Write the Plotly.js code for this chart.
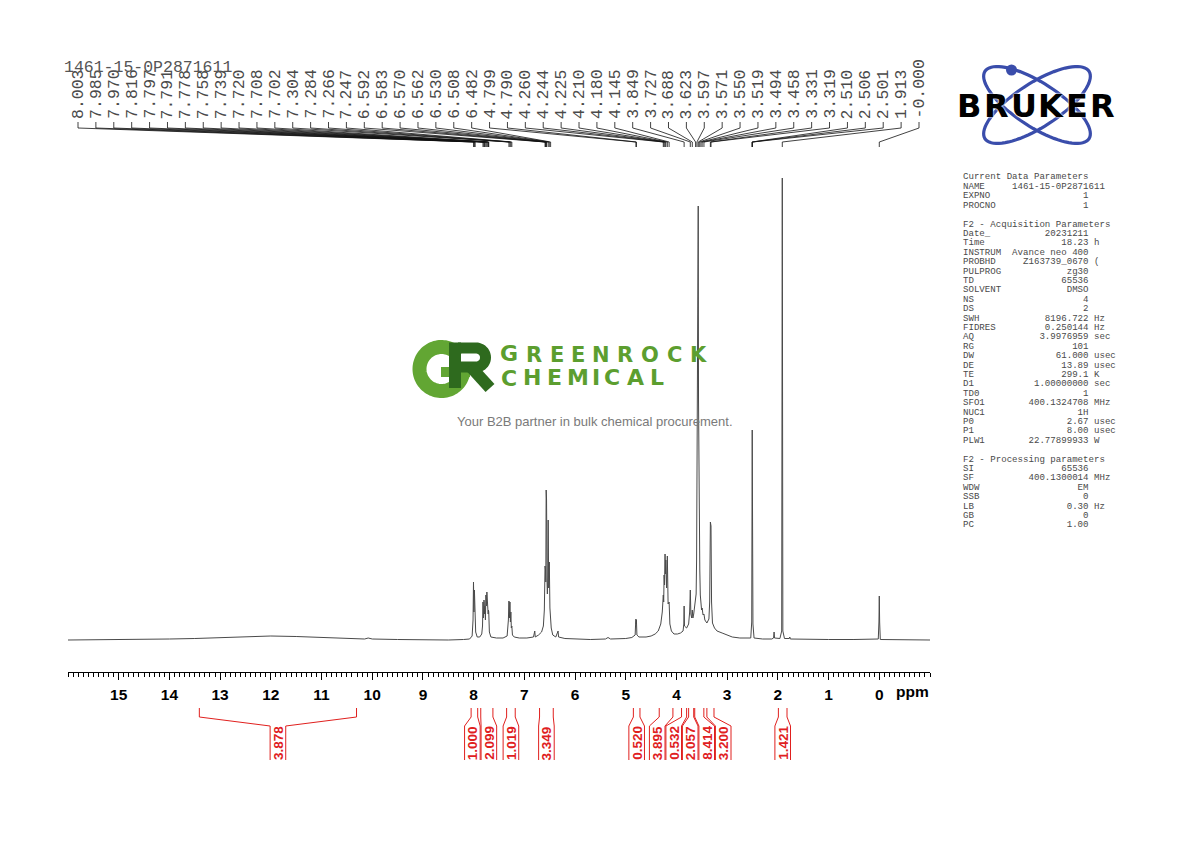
<!DOCTYPE html>
<html><head><meta charset="utf-8">
<script src="https://cdn.plot.ly/plotly-3.0.1.min.js"></script>
<style>html,body{margin:0;padding:0;background:#fff}#chart{width:1190px;height:842px}</style>
</head><body><div id="chart"></div>
<script>
// ---------------- data ----------------
// 1H spectrum trace: chemical shift (ppm) and intensity (a.u., baseline = 0)
const SPEC_PPM = [16.0,15.0,14.5,14.0,13.5,13.0,12.5,12.0,11.5,11.0,10.5,10.15,10.08,10.0,9.5,9.0,8.5,8.2,8.08,8.03,8.012,8.003,7.994,7.985,7.978,7.970,7.960,7.93,7.88,7.84,7.825,7.816,7.806,7.797,7.791,7.785,7.778,7.768,7.758,7.748,7.739,7.730,7.720,7.714,7.708,7.702,7.690,7.66,7.55,7.42,7.34,7.315,7.304,7.295,7.284,7.275,7.266,7.257,7.247,7.235,7.20,7.10,6.95,6.82,6.795,6.785,6.72,6.66,6.625,6.606,6.592,6.588,6.583,6.577,6.570,6.566,6.562,6.553,6.546,6.538,6.530,6.520,6.508,6.496,6.489,6.482,6.470,6.44,6.38,6.335,6.325,6.2,6.0,5.7,5.4,5.35,5.30,5.0,4.88,4.815,4.805,4.799,4.794,4.790,4.780,4.74,4.60,4.50,4.42,4.36,4.31,4.28,4.260,4.252,4.244,4.235,4.225,4.218,4.210,4.195,4.180,4.165,4.145,4.130,4.10,4.05,3.98,3.92,3.87,3.855,3.849,3.842,3.80,3.76,3.74,3.727,3.716,3.70,3.688,3.676,3.66,3.645,3.623,3.612,3.603,3.597,3.588,3.580,3.571,3.565,3.558,3.550,3.540,3.530,3.519,3.505,3.494,3.476,3.458,3.44,3.40,3.36,3.345,3.331,3.325,3.319,3.308,3.29,3.25,3.20,3.10,3.00,2.90,2.75,2.60,2.535,2.516,2.510,2.506,2.501,2.492,2.47,2.30,2.12,2.085,2.075,2.066,1.96,1.925,1.913,1.902,1.87,1.775,1.765,1.755,1.40,1.00,0.50,0.02,0.007,0.000,-0.007,-0.02,-0.5,-1.0];
const SPEC_INT = [0,0.3,0.5,1,1.5,2.5,3.5,4,3.5,2.5,1.5,1,2,1,0.5,0,0,0.5,1,4,20,58,28,50,24,38,8,3,3,6,14,38,22,40,38,26,34,20,45,34,48,30,36,26,30,28,8,3,2,2,4,20,39,22,38,18,28,12,14,5,3,2,2,3,9,3,5,8,14,30,74,55,70,58,150,112,140,58,46,62,120,52,78,32,26,30,12,5,3,9,3,1.5,1,0.5,1,2.5,1,1.5,2.5,5,17,21,16,20,5,3,3,4,6,9,16,28,45,38,65,55,86,66,80,52,84,36,38,16,9,6,6,7,9,16,34,14,12,16,28,50,26,22,30,22,26,34,44,46,80,175,200,300,434,240,160,115,70,45,40,30,32,25,26,20,17,21,38,118,98,114,38,17,12,9,7,5,3,2,1.5,2,18,150,210,140,16,2,1,1,2,8,2,1.5,9,462,9,1.5,1.5,3,1,0.5,0.5,0.5,1,18,44,18,0.5,0,0];

// peak picking labels (ppm)
const PEAK_LABELS = [8.003,7.985,7.970,7.816,7.797,7.791,7.778,7.758,7.739,7.720,7.708,7.702,7.304,7.284,7.266,7.247,6.592,6.583,6.570,6.562,6.530,6.508,6.482,4.799,4.790,4.260,4.244,4.225,4.210,4.180,4.145,3.849,3.727,3.688,3.623,3.597,3.571,3.550,3.519,3.494,3.458,3.331,3.319,2.510,2.506,2.501,1.913,-0.000];
const PEAK_TEXT = ['8.003','7.985','7.970','7.816','7.797','7.791','7.778','7.758','7.739','7.720','7.708','7.702','7.304','7.284','7.266','7.247','6.592','6.583','6.570','6.562','6.530','6.508','6.482','4.799','4.790','4.260','4.244','4.225','4.210','4.180','4.145','3.849','3.727','3.688','3.623','3.597','3.571','3.550','3.519','3.494','3.458','3.331','3.319','2.510','2.506','2.501','1.913','-0.000'];

// integrals
const INT_FROM = [13.41,8.05,7.86,7.35,6.70,4.85,4.34,3.90,3.76,3.64,3.40,1.99];
const INT_TO   = [10.31,7.92,7.62,7.18,6.43,4.72,4.07,3.80,3.66,3.46,3.26,1.82];
const INT_TEXT = ['3.878','1.000','2.099','1.019','3.349','0.520','3.895','0.532','2.057','8.414','3.200','1.421'];

// axis ticks
const TICK_VALUES = [15,14,13,12,11,10,9,8,7,6,5,4,3,2,1,0];
const TICK_LABELS = ['15','14','13','12','11','10','9','8','7','6','5','4','3','2','1','0'];

// acquisition / processing parameter panel
const PARAM_NAMES  = ['Current Data Parameters','NAME','EXPNO','PROCNO','','F2 - Acquisition Parameters','Date_','Time','INSTRUM','PROBHD','PULPROG','TD','SOLVENT','NS','DS','SWH','FIDRES','AQ','RG','DW','DE','TE','D1','TD0','SFO1','NUC1','P0','P1','PLW1','','F2 - Processing parameters','SI','SF','WDW','SSB','LB','GB','PC'];
const PARAM_VALUES = ['','1461-15-0P2871611','1','1','','','20231211','18.23','Avance neo 400','Z163739_0670','zg30','65536','DMSO','4','2','8196.722','0.250144','3.9976959','101','61.000','13.89','299.1','1.00000000','1','400.1324708','1H','2.67','8.00','22.77899933','','','65536','400.1300014','EM','0','0.30','0','1.00'];
const PARAM_UNITS  = ['','','','','','','','h','','(','','','','','','Hz','Hz','sec','','usec','usec','K','sec','','MHz','','usec','usec','W','','','','MHz','','','Hz','',''];

const SAMPLE_NAME = '1461-15-0P2871611';

// ---------------- geometry helpers ----------------
const W = 1190, H = 842;
const ML = 68, MR = 260, PLOT_H = 672;
const X0 = 16, X1 = -1;
const PW = W - ML - MR;
function pxToPpm(x){ return X0 - (x - ML) / PW * (X0 - X1); }
function ppmToPx(p){ return ML + (X0 - p) / (X0 - X1) * PW; }
function px(x){ return (x - ML) / PW; }
function py(y){ return (PLOT_H - y) / PLOT_H; }
function pt(x, y){ return px(x).toFixed(5) + ',' + py(y).toFixed(5); }

const shapes = [];
const annotations = [];

// ---------------- peak labels ----------------
const MONO = 'Liberation Mono, Courier New, monospace';
const nL = PEAK_LABELS.length;
for (let i = 0; i < nL; i++) {
  const lx = pxToPpm(78 + i * (919 - 78) / (nL - 1));
  const p = PEAK_LABELS[i];
  annotations.push({xref:'x', yref:'paper', x: lx, y: py(120), xanchor:'center', yanchor:'bottom',
    text: PEAK_TEXT[i], textangle: -90, showarrow:false, borderpad:0,
    font:{family: MONO, size:16.5, color:'#4a4a4a'}});
  shapes.push({type:'path', xref:'x', yref:'paper', layer:'above',
    path:`M ${lx},${py(122)} L ${lx},${py(128)} L ${p},${py(142)} L ${p},${py(147)}`,
    line:{color:'#111', width:0.8}});
}
annotations.push({xref:'paper', yref:'paper', x: px(62), y: py(68), xanchor:'left', yanchor:'middle',
  text: SAMPLE_NAME, showarrow:false, font:{family: MONO, size:16.5, color:'#555'}});

// ---------------- integrals ----------------
const RED = '#e0201e';
const GAP = 16.5;
const centers = INT_FROM.map((f, i) => (ppmToPx(f) + ppmToPx(INT_TO[i])) / 2);
let groups = centers.map((c, i) => ({start:i, n:1, mean:c}));
let merged = true;
while (merged) {
  merged = false;
  for (let g = 0; g < groups.length - 1; g++) {
    const a = groups[g], b = groups[g + 1];
    const aEnd = a.mean + (a.n - 1) / 2 * GAP, bStart = b.mean - (b.n - 1) / 2 * GAP;
    if (bStart - aEnd < GAP) {
      const n = a.n + b.n;
      groups.splice(g, 2, {start:a.start, n:n, mean:(a.mean * a.n + b.mean * b.n) / n});
      merged = true; break;
    }
  }
}
const labelPx = [];
groups.forEach(g => { for (let k = 0; k < g.n; k++) labelPx[g.start + k] = g.mean + (k - (g.n - 1) / 2) * GAP; });
const HALF = 7.8;
for (let i = 0; i < INT_TEXT.length; i++) {
  const lc = labelPx[i];
  const l = pxToPpm(lc - HALF), r = pxToPpm(lc + HALF);
  const a = INT_FROM[i], b = INT_TO[i];
  shapes.push({type:'path', xref:'x', yref:'paper', layer:'above',
    path:`M ${a},${py(708)} L ${a},${py(717)} L ${l},${py(726)} L ${l},${py(760)} M ${b},${py(708)} L ${b},${py(717)} L ${r},${py(726)} L ${r},${py(760)}`,
    line:{color:RED, width:1}});
  annotations.push({xref:'x', yref:'paper', x: pxToPpm(lc), y: py(743), xanchor:'center', yanchor:'middle',
    text: INT_TEXT[i], textangle:-90, showarrow:false, borderpad:0,
    font:{family:'Liberation Sans, Arial, sans-serif', size:13.5, color:RED, weight:'bold'}});
}

// ppm unit label
annotations.push({xref:'paper', yref:'paper', x: px(912), y: py(692), xanchor:'center', yanchor:'middle',
  text:'ppm', showarrow:false, font:{family:'Liberation Sans, Arial, sans-serif', size:15.5, color:'#000', weight:'bold'}});

// ---------------- parameter panel ----------------
for (let k = 0; k < PARAM_NAMES.length; k++) {
  const name = PARAM_NAMES[k], val = PARAM_VALUES[k], unit = PARAM_UNITS[k];
  if (!name) continue;
  let line = name;
  if (val) {
    const endCol = (name === 'NAME') ? 26 : 23;
    line = name + ' '.repeat(Math.max(1, endCol - name.length - val.length)) + val + (unit ? ' ' + unit : '');
  }
  annotations.push({xref:'paper', yref:'paper', x: px(962), y: py(177 + k * 9.4), xanchor:'left', yanchor:'middle',
    text: line.replace(/ /g, '\u00A0'), showarrow:false, borderpad:0,
    font:{family: MONO, size:9.1, color:'#4a4a4a'}});
}

// ---------------- BRUKER logo ----------------
function ellipsePath(cx, cy, a, b, deg) {
  const th = deg * Math.PI / 180; const pts = [];
  for (let k = 0; k <= 80; k++) {
    const t = k / 80 * 2 * Math.PI;
    const x = cx + a * Math.cos(t) * Math.cos(th) - b * Math.sin(t) * Math.sin(th);
    const y = cy + a * Math.cos(t) * Math.sin(th) + b * Math.sin(t) * Math.cos(th);
    pts.push((k ? 'L ' : 'M ') + pt(x, y));
  }
  return pts.join(' ') + ' Z';
}
const BLUE = '#3a4dab';
shapes.push({type:'path', xref:'paper', yref:'paper', path: ellipsePath(1037, 105, 62, 22, 33), line:{color:BLUE, width:3.2}});
shapes.push({type:'path', xref:'paper', yref:'paper', path: ellipsePath(1037, 105, 62, 22, -33), line:{color:BLUE, width:3.2}});
shapes.push({type:'circle', xref:'paper', yref:'paper', x0: px(1006), x1: px(1017), y0: py(75.5), y1: py(64.5), fillcolor:BLUE, line:{color:BLUE, width:0}});
const BRUKER = ['B','R','U','K','E','R'];
const BRUKER_X = [969.5, 996.5, 1024, 1051, 1076.5, 1102.5];
BRUKER.forEach((c, i) => annotations.push({xref:'paper', yref:'paper', x: px(BRUKER_X[i]), y: py(106), xanchor:'center', yanchor:'middle',
  text:c, showarrow:false, borderpad:0,
  font:{family:'DejaVu Sans, sans-serif', size:32, color:'#000', weight:'bold', shadow:'0 0 2px #fff, 0 0 2px #fff'}}));

// ---------------- GREENROCK watermark ----------------
const G_LIGHT = '#62a633', G_DARK = '#2e6a1e', G_TEXT = '#5c9e2f';
function arcPts(cx, cy, r, a0, a1, n) {
  const out = [];
  for (let k = 0; k <= n; k++) {
    const t = (a0 + (a1 - a0) * k / n) * Math.PI / 180;
    out.push((k ? 'L ' : 'M ') + pt(cx + r * Math.cos(t), cy + r * Math.sin(t)));
  }
  return out.join(' ');
}
// emblem "G" (light green ring with bar)
shapes.push({type:'path', xref:'paper', yref:'paper', path: arcPts(441.5, 369, 22, -38, -360, 90), line:{color:G_LIGHT, width:14}});
shapes.push({type:'path', xref:'paper', yref:'paper', path: 'M ' + pt(441, 372) + ' L ' + pt(470, 372), line:{color:G_LIGHT, width:10}});
// emblem "R" (dark green: stem, bowl, leg)
shapes.push({type:'rect', xref:'paper', yref:'paper', x0: px(449), x1: px(461), y0: py(388), y1: py(342.5), fillcolor:G_DARK, line:{width:0}});
shapes.push({type:'path', xref:'paper', yref:'paper',
  path: 'M ' + pt(458, 348) + ' L ' + pt(476, 348) + ' ' + arcPts(476, 357.5, 9.5, -90, 90, 24).replace(/^M/, 'L') + ' L ' + pt(458, 367),
  line:{color:G_DARK, width:11}});
shapes.push({type:'path', xref:'paper', yref:'paper', path: 'M ' + pt(470, 366) + ' L ' + pt(490, 388), line:{color:G_DARK, width:12}});

const GR1 = ['G','R','E','E','N','R','O','C','K'];
const GR1_X = [508.9, 533.7, 556.5, 578.3, 601.1, 624.9, 649.7, 674.5, 698.3];
GR1.forEach((c, i) => annotations.push({xref:'paper', yref:'paper', x: px(GR1_X[i]), y: py(i ? 354.5 : 353), xanchor:'center', yanchor:'middle',
  text:c, showarrow:false, borderpad:0, font:{family:'DejaVu Sans, sans-serif', size: i ? 21 : 22, color:G_TEXT, weight:'bold'}}));
const GR2 = ['C','H','E','M','I','C','A','L'];
const GR2_X = [509.5, 532.3, 554.2, 577.9, 595.9, 612, 635.3, 657.2];
GR2.forEach((c, i) => annotations.push({xref:'paper', yref:'paper', x: px(GR2_X[i]), y: py(i ? 377.5 : 378), xanchor:'center', yanchor:'middle',
  text:c, showarrow:false, borderpad:0, font:{family:'DejaVu Sans, sans-serif', size:22, color:G_TEXT, weight:'bold'}}));
annotations.push({xref:'paper', yref:'paper', x: px(594.5), y: py(421), xanchor:'center', yanchor:'middle',
  text:'Your B2B partner in bulk chemical procurement.', showarrow:false,
  font:{family:'Liberation Sans, Arial, sans-serif', size:13, color:'#7a7a7a'}});

// ---------------- figure ----------------
const trace = {type:'scatter', mode:'lines', x: SPEC_PPM, y: SPEC_INT,
  line:{color:'#4a4a4a', width:1}, hoverinfo:'skip', showlegend:false};

const layout = {
  width: W, height: H,
  margin: {l: ML, r: MR, t: 0, b: H - PLOT_H, pad: 0},
  paper_bgcolor:'#fff', plot_bgcolor:'#fff',
  font:{family:'Liberation Sans, Arial, sans-serif'},
  showlegend:false,
  xaxis: {range:[X0, X1], autorange:false, tickmode:'array', tickvals: TICK_VALUES, ticktext: TICK_LABELS,
    ticks:'outside', ticklen:7, tickwidth:1, tickcolor:'#000', ticklabelstandoff:1,
    showline:true, linecolor:'#000', linewidth:1, showgrid:false, zeroline:false, automargin:false,
    tickfont:{family:'Liberation Sans, Arial, sans-serif', size:15.5, color:'#000', weight:'bold'},
    minor:{tickmode:'linear', tick0:0, dtick:0.1, ticks:'outside', ticklen:4, tickwidth:1, tickcolor:'#000', showgrid:false}},
  yaxis: {domain:[0, (PLOT_H - 170) / PLOT_H], range:[-32, 470], autorange:false, visible:false, fixedrange:true},
  shapes: shapes,
  annotations: annotations
};
Plotly.newPlot('chart', [trace], layout, {staticPlot:true, displayModeBar:false});
</script>
</body></html>
